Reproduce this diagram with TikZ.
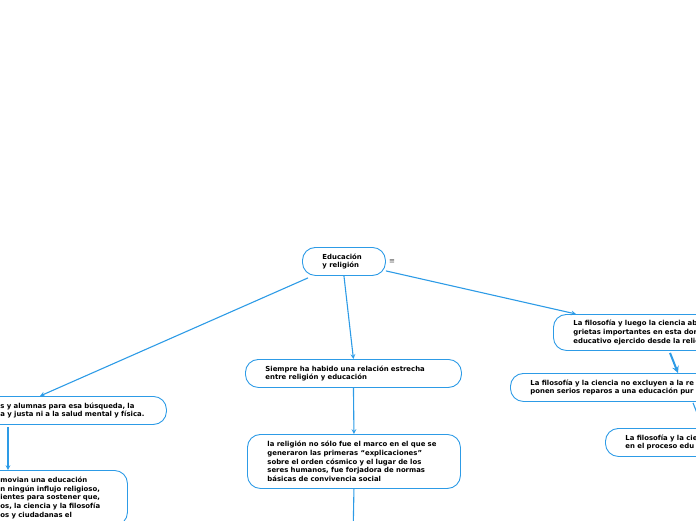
\documentclass[tikz,border=0pt]{standalone}
\usepackage{fontspec}
\setmainfont{DejaVu Sans}
\usepackage{xcolor}
\usetikzlibrary{arrows, positioning, calc}
\definecolor{mmblue}{RGB}{45,155,230}

\begin{document}
\begin{tikzpicture}[x=1pt, y=-1pt,
    topic/.style={draw=mmblue, line width=0.9pt, rectangle, rounded corners=13pt, align=left, inner xsep=20pt, inner ysep=0pt, anchor=north west, font=\fontsize{6.9}{8.8}\selectfont\bfseries},
    arrow/.style={draw=mmblue, line width=1.1pt, ->, >=stealth}
]
\useasboundingbox (0,0) rectangle (696,520);
\clip (0,0) rectangle (696,520);

% Central topic
\node (root) [topic, text width=43pt, minimum height=28pt] at (302,247) {Educación\\y religión};
\node (menu) [font=\fontsize{7}{7}\selectfont, text=black!70] at (392,262) {≡};

% Left branch
\node (left1) [topic, text width=146pt, minimum height=28pt] at (-20,396) {s y alumnas para esa búsqueda, la\\a y justa ni a la salud mental y física.};
\node (left2) [topic, text width=107pt, minimum height=55pt] at (-20,470) {movian una educación\\n ningún influjo religioso,\\ientes para sostener que,\\os, la ciencia y la filosofía\\os y ciudadanas el};

% Middle branch
\node (mid1) [topic, text width=176pt, minimum height=28pt] at (245,359) {Siempre ha habido una relación estrecha\\entre religión y educación};
\node (mid2) [topic, text width=173pt, minimum height=54pt] at (247,434) {la religión no sólo fue el marco en el que se\\generaron las primeras ``explicaciones''\\sobre el orden cósmico y el lugar de los\\seres humanos, fue forjadora de normas\\básicas de convivencia social};
\coordinate (midend) at (353,540);

% Right branch
\node (right1) [topic, text width=220pt, minimum height=36pt] at (553,314) {La filosofía y luego la ciencia ab\\grietas importantes en esta dor\\educativo ejercido desde la relig};
\node (right2) [topic, text width=240pt, minimum height=28pt] at (510,373) {La filosofía y la ciencia no excluyen a la re\\ponen serios reparos a una educación pur};
\node (right3) [topic, text width=150pt, minimum height=28pt] at (605,428) {La filosofía y la cie\\en el proceso edu};

\draw [arrow] ($(root.south west)+(6,2)$) -- ($(left1.north west)+(60,0)$);
\draw [arrow] (root.south) -- (mid1.north);
\draw [arrow] ($(root.south east)+(0,-5)$) -- ($(right1.north west)+(23,0)$);

\draw [arrow] ($(left1.south west)+(28,2)$) -- ($(left2.north west)+(28,0)$);
\draw [arrow] (mid1.south) -- (mid2.north);
\draw [draw=mmblue, line width=1.1pt] (mid2.south) -- (midend);
\draw [arrow, line width=2pt] ($(right1.south west)+(117,2)$) -- ($(right2.north west)+(168,0)$);
\draw [arrow] ($(right2.south west)+(183,1)$) -- ($(right3.north west)+(98,0)$);

\end{tikzpicture}
\end{document}
